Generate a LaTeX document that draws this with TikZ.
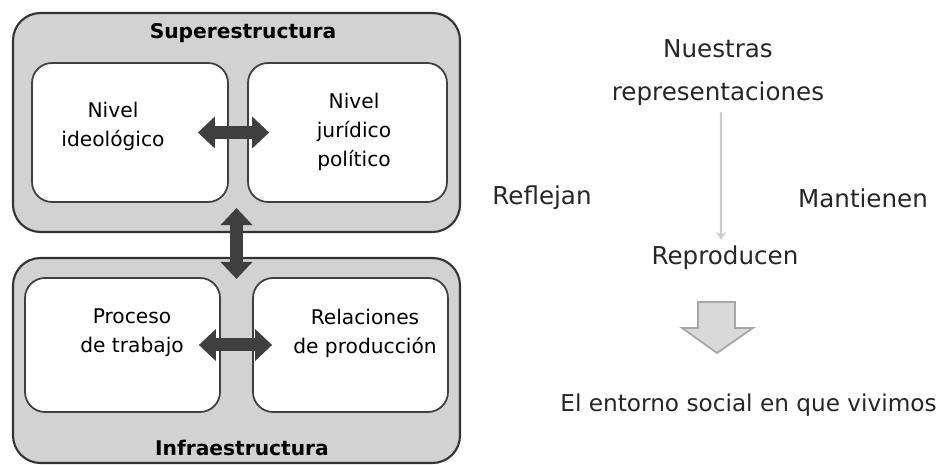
\documentclass[tikz,border=0pt]{standalone}
\usepackage{fontspec}
\setmainfont{DejaVu Sans}
\usetikzlibrary{arrows.meta}

\definecolor{boxgray}{HTML}{D2D2D2}
\definecolor{arrowdark}{HTML}{3F3F3F}
\definecolor{blockgray}{HTML}{D9D9D9}
\definecolor{blockedge}{HTML}{A6A6A6}

\tikzset{
  outerbox/.style={draw=black!80, line width=1.2pt, fill=boxgray, rounded corners=0.55cm},
  innerbox/.style={draw=black!75, line width=1pt, fill=white, rounded corners=0.4cm},
  boxtext/.style={align=center, font=\fontsize{11.5}{16.5}\selectfont},
  boxtitle/.style={font=\fontsize{11.5}{14}\selectfont\bfseries},
  fatarrow/.style={draw=arrowdark, line width=0.26cm,
    {Triangle[width=0.62cm,length=0.34cm]}-{Triangle[width=0.62cm,length=0.34cm]}},
  plaintext/.style={align=center, font=\fontsize{14}{24.5}\selectfont, text=black!85}
}

\begin{document}
\begin{tikzpicture}
\useasboundingbox (0,0) rectangle (18.8,9.3);

% Outer boxes
\node[outerbox, minimum width=8.94cm, minimum height=4.38cm] (super) at (4.73,6.85) {};
\node[outerbox, minimum width=8.94cm, minimum height=4.1cm] (infra) at (4.73,2.09) {};

% Inner boxes
\node[innerbox, minimum width=3.92cm, minimum height=2.78cm] (ideo) at (2.6,6.65) {};
\node[innerbox, minimum width=3.98cm, minimum height=2.78cm] (juri) at (6.95,6.65) {};
\node[innerbox, minimum width=3.9cm, minimum height=2.68cm] (proc) at (2.45,2.4) {};
\node[innerbox, minimum width=3.9cm, minimum height=2.68cm] (rela) at (7.01,2.4) {};

% Titles
\node[boxtitle] (supertitle) at (4.86,8.64) {Superestructura};
\node[boxtitle] (infratitle) at (4.84,0.34) {Infraestructura};

% Box texts
\node[boxtext] (ideotext) at (2.26,6.78) {Nivel\\ideológico};
\node[boxtext] (juritext) at (7.08,6.66) {Nivel\\jurídico\\político};
\node[boxtext] (proctext) at (2.64,2.64) {Proceso\\de trabajo};
\node[boxtext] (relatext) at (7.3,2.64) {Relaciones\\de producción};

% Double arrows
\draw[fatarrow] ([xshift=-0.62cm]ideo.east) -- ([xshift=0.44cm]juri.west);
\draw[fatarrow] ([xshift=-0.44cm]proc.east) -- ([xshift=0.4cm]rela.west);
\draw[fatarrow] ([yshift=0.5cm]super.south) -- ([yshift=-0.44cm]infra.north);

% Right side
\node[plaintext] (repr) at (14.36,7.84) {Nuestras\\representaciones};
\node[plaintext] (refl) at (10.84,5.34) {Reflejan};
\node[plaintext] (mant) at (17.26,5.34) {Mantienen};
\node[plaintext] (repro) at (14.5,4.14) {Reproducen};
\node[plaintext, font=\fontsize{13.2}{16}\selectfont, anchor=east, inner xsep=0pt]
  (entorno) at (18.74,1.2) {El entorno social en que vivimos};

\draw[black!20, line width=1.4pt, -{Stealth[length=1.6mm,width=2mm]}]
  ([xshift=0.06cm]repr.south) -- ([xshift=-0.08cm]repro.north);

% Block arrow down
\draw[blockedge, fill=blockgray, line width=1pt]
  (13.96,3.26) -- (14.7,3.26) -- (14.7,2.74) -- (15.06,2.74) -- (14.34,2.24)
  -- (13.64,2.74) -- (13.96,2.74) -- cycle;

\end{tikzpicture}
\end{document}
